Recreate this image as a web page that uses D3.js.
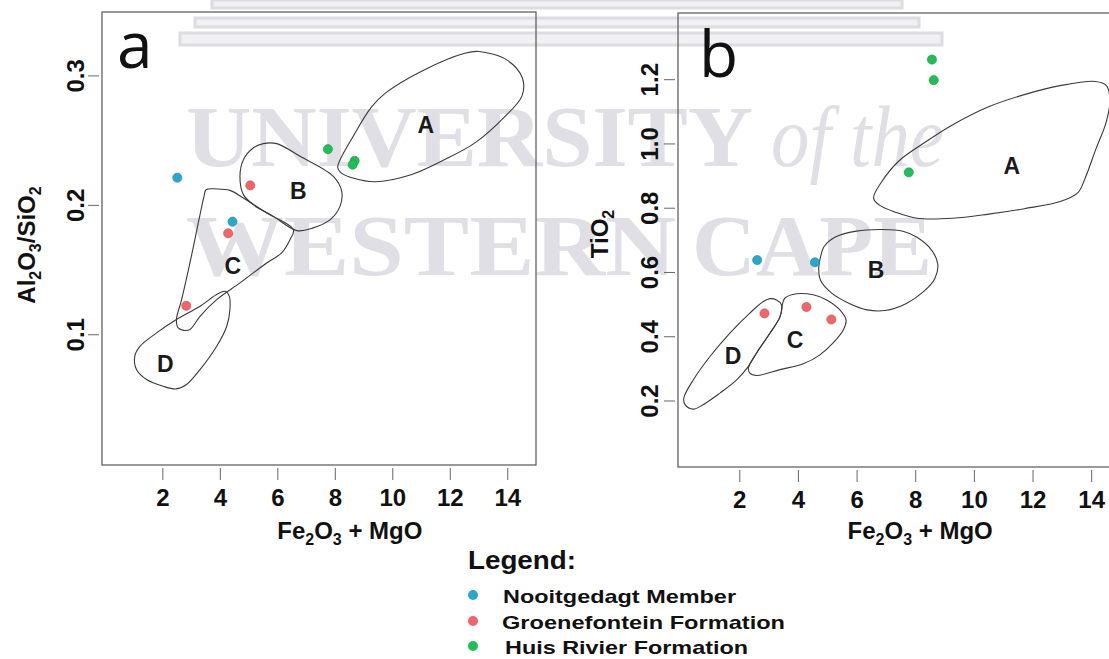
<!DOCTYPE html>
<html>
<head>
<meta charset="utf-8">
<script src="https://cdn.jsdelivr.net/npm/d3@7"></script>
<style>
  body { margin: 0; background: #fff; }
  svg { display: block; }
  text { font-family: "Liberation Sans", Arial, sans-serif; }
</style>
</head>
<body>
<svg id="chart" width="1109" height="659"></svg>
<script>
// ---- data ----
const xTicks = [2, 4, 6, 8, 10, 12, 14];
const yTicksA = [0.1, 0.2, 0.3];
const yTicksB = [0.2, 0.4, 0.6, 0.8, 1.0, 1.2];

const groups = ["Nooitgedagt Member", "Groenefontein Formation", "Huis Rivier Formation"];
const groupColors = ["#2aa7cb", "#f1646a", "#21bd57"];

// panel a: Fe2O3+MgO vs Al2O3/SiO2
const nooitA = [[2.52, 0.221], [4.44, 0.187]];
const groenA = [[5.06, 0.215], [4.29, 0.178], [2.83, 0.122]];
const huisA = [[7.76, 0.243], [8.69, 0.234], [8.62, 0.231]];

// panel b: Fe2O3+MgO vs TiO2
const nooitB = [[2.61, 0.637], [4.58, 0.630]];
const groenB = [[2.86, 0.471], [4.29, 0.491], [5.14, 0.452]];
const huisB = [[8.57, 1.261], [8.63, 1.197], [7.78, 0.910]];

// tectonic setting fields, panel a
const fieldAa = [[8.10,0.2288],[8.66,0.2537],[9.28,0.2757],[9.78,0.2867],[11.02,0.3033],[12.52,0.3171],[13.01,0.3185],[14.01,0.3116],[14.53,0.2978],[14.51,0.284],[13.88,0.2674],[12.89,0.2481],[11.77,0.2344],[10.65,0.2233],[9.40,0.2178],[8.66,0.2205],[8.22,0.2247]];
const fieldBa = [[5.16,0.2439],[5.51,0.2473],[5.98,0.2473],[6.79,0.2375],[7.95,0.222],[8.24,0.2104],[8.18,0.1988],[7.84,0.1886],[7.25,0.1822],[6.68,0.1801],[5.86,0.1911],[5.16,0.2002],[4.82,0.2079],[4.70,0.222],[4.82,0.2349]];
const fieldCa = [[3.52,0.2117],[3.89,0.2123],[4.35,0.2112],[4.82,0.2053],[5.63,0.1937],[6.56,0.1808],[6.44,0.1731],[6.15,0.1629],[5.63,0.1551],[4.70,0.1397],[3.89,0.1268],[3.31,0.1139],[2.96,0.1037],[2.78,0.1029],[2.55,0.1049],[2.49,0.1114],[2.67,0.1268],[2.96,0.1551],[3.25,0.186],[3.45,0.2066]];
const fieldDa = [[4.18,0.1332],[4.33,0.1293],[4.35,0.119],[4.24,0.1062],[3.89,0.0907],[3.31,0.0727],[2.84,0.0612],[2.49,0.0578],[2.03,0.0598],[1.45,0.065],[1.10,0.0727],[1.04,0.083],[1.22,0.0907],[1.80,0.1011],[2.49,0.1114],[3.31,0.1216],[3.89,0.1307]];
const labelsA = [["A", 11.17, 0.262], ["B", 6.73, 0.211], ["C", 4.45, 0.153], ["D", 2.10, 0.077]];

// tectonic setting fields, panel b
const fieldAb = [[6.58,0.830],[6.85,0.880],[7.46,0.947],[8.31,1.002],[9.28,1.058],[10.50,1.114],[11.72,1.152],[12.94,1.180],[14.15,1.193],[14.52,1.180],[14.64,1.136],[14.52,1.069],[14.15,0.980],[13.79,0.891],[13.55,0.847],[12.94,0.819],[11.72,0.797],[10.50,0.780],[9.28,0.767],[8.06,0.767],[7.33,0.786],[6.78,0.808]];
const fieldBb = [[4.77,0.647],[4.90,0.680],[5.26,0.708],[5.99,0.727],[6.85,0.732],[7.58,0.727],[8.06,0.708],[8.55,0.669],[8.77,0.624],[8.67,0.580],[8.31,0.541],[7.70,0.502],[6.97,0.480],[6.36,0.482],[5.75,0.502],[5.14,0.535],[4.77,0.574],[4.71,0.613]];
const fieldCb = [[3.56,0.519],[3.96,0.532],[4.52,0.529],[4.98,0.513],[5.43,0.482],[5.64,0.451],[5.55,0.420],[5.20,0.379],[4.75,0.342],[4.18,0.314],[3.39,0.296],[2.59,0.278],[2.36,0.285],[2.31,0.301],[2.59,0.348],[3.05,0.410],[3.39,0.461],[3.48,0.503]];
const fieldDb = [[3.05,0.517],[3.27,0.513],[3.44,0.498],[3.39,0.461],[3.05,0.410],[2.59,0.348],[2.31,0.306],[1.91,0.264],[1.34,0.223],[0.77,0.187],[0.43,0.173],[0.15,0.187],[0.11,0.208],[0.43,0.264],[1.00,0.337],[1.68,0.410],[2.36,0.472],[2.82,0.508]];
const labelsB = [["A", 11.29, 0.930], ["B", 6.66, 0.605], ["C", 3.90, 0.387], ["D", 1.79, 0.339]];

// ---- drawing ----
const svg = d3.select("#chart");

// faint thesis watermark behind everything
const wm = svg.append("g").attr("class", "watermark");
[[212, 0, 690, 8], [195, 18, 724, 9], [180, 33, 762, 12]].forEach(function (r) {
  wm.append("rect")
    .attr("x", r[0]).attr("y", r[1]).attr("width", r[2]).attr("height", r[3])
    .attr("fill", "#f1f1f3").attr("stroke", "#dcdce1").attr("stroke-width", 3);
});
const wmText = [["UNIVERSITY", 186, 166, 567, "normal"], ["of the", 771, 166, 173, "italic"],
                ["WESTERN", 186, 275, 490, "normal"], ["CAPE", 692, 275, 240, "normal"]];
wmText.forEach(function (t) {
  wm.append("text")
    .attr("x", t[1]).attr("y", t[2])
    .attr("textLength", t[3]).attr("lengthAdjust", "spacingAndGlyphs")
    .style("font-family", '"Liberation Serif", "DejaVu Serif", serif')
    .style("font-size", "86px")
    .style("font-weight", t[4] == "italic" ? "normal" : "bold")
    .style("font-style", t[4])
    .attr("fill", "#dfdfe5")
    .text(t[0]);
});

const curve = d3.curveCatmullRomClosed.alpha(0.5);

function subText(sel, parts) {
  parts.forEach(function (p) {
    if (p[1]) {
      sel.append("tspan").attr("dy", 6).style("font-size", "16px").text(p[0]);
    } else {
      sel.append("tspan").attr("dy", p[2] || 0).text(p[0]);
    }
  });
}

function buildPanel(cfg) {
  const x = d3.scaleLinear().domain(cfg.xDomain).range([cfg.left, cfg.left + cfg.width]);
  const y = d3.scaleLinear().domain(cfg.yDomain).range([cfg.top + cfg.height, cfg.top]);
  const g = svg.append("g");

  // x axis
  const xa = g.append("g")
    .attr("transform", "translate(0," + (cfg.top + cfg.height + 3) + ")")
    .call(d3.axisBottom(x).tickValues(xTicks).tickSize(12).tickPadding(9).tickFormat(d3.format("d")));
  xa.select(".domain").remove();
  xa.selectAll(".tick line").attr("stroke", "#666");
  xa.selectAll(".tick text")
    .style("font-size", "24px").style("font-weight", "bold").attr("fill", "#111")
    .style("font-family", '"Liberation Sans", Arial, sans-serif');

  // y axis with labels parallel to the axis
  const ya = g.append("g")
    .attr("transform", "translate(" + (cfg.left - 3) + ",0)")
    .call(d3.axisLeft(y).tickValues(cfg.yTicks).tickSize(11).tickFormat(d3.format(".1f")));
  ya.select(".domain").remove();
  ya.selectAll(".tick line").attr("stroke", "#666");
  ya.selectAll(".tick text")
    .attr("transform", "rotate(-90)")
    .attr("x", 0).attr("y", -cfg.yLabelGap).attr("dy", 0)
    .attr("text-anchor", "middle")
    .style("font-size", "24px").style("font-weight", "bold").attr("fill", "#111")
    .style("font-family", '"Liberation Sans", Arial, sans-serif');

  // fields
  const line = d3.line().x(function (d) { return x(d[0]); }).y(function (d) { return y(d[1]); }).curve(curve);
  g.append("g").selectAll("path")
    .data(cfg.fields)
    .enter()
    .append("path")
    .attr("d", line)
    .attr("fill", "none")
    .attr("stroke", "#3a3a3a")
    .attr("stroke-width", 1.1);

  g.append("g").selectAll("text")
    .data(cfg.labels)
    .enter()
    .append("text")
    .attr("x", function (d) { return x(d[1]); })
    .attr("y", function (d) { return y(d[2]); })
    .attr("text-anchor", "middle")
    .attr("dominant-baseline", "central")
    .style("font-size", "23px").style("font-weight", "bold").attr("fill", "#1a1a1a")
    .text(function (d) { return d[0]; });

  // points
  cfg.series.forEach(function (s, i) {
    g.append("g").selectAll("circle")
      .data(s)
      .enter()
      .append("circle")
      .attr("cx", function (d) { return x(d[0]); })
      .attr("cy", function (d) { return y(d[1]); })
      .attr("r", 4.6)
      .attr("fill", groupColors[i])
      .attr("stroke", d3.color(groupColors[i]).darker(0.6))
      .attr("stroke-width", 0.6);
  });

  // frame
  g.append("rect")
    .attr("x", cfg.left).attr("y", cfg.top)
    .attr("width", cfg.width).attr("height", cfg.height)
    .attr("fill", "none").attr("stroke", "#555").attr("stroke-width", 1.2);

  // panel letter
  g.append("text")
    .attr("x", cfg.letterX).attr("y", cfg.letterY)
    .style("font-family", '"Open Sans", sans-serif')
    .style("font-size", "64px").attr("fill", "#111")
    .text(cfg.letter);

  // axis titles
  const xt = g.append("text")
    .attr("x", cfg.left + cfg.width * cfg.xTitleFrac).attr("y", 539)
    .attr("text-anchor", "middle")
    .style("font-size", "24px").style("font-weight", "bold").attr("fill", "#111");
  subText(xt, [["Fe", 0], ["2", 1], ["O", 0, -6], ["3", 1], [" + MgO", 0, -6]]);

  const yt = g.append("text")
    .attr("transform", "translate(" + cfg.yTitleX + "," + cfg.yTitleY + ") rotate(-90)")
    .attr("text-anchor", "middle")
    .style("font-size", "24px").style("font-weight", "bold").attr("fill", "#111");
  subText(yt, cfg.yTitle);
}

buildPanel({
  left: 102, top: 12, width: 434, height: 453,
  xDomain: [-0.1, 15.0], yDomain: [-0.001, 0.349], yTicks: yTicksA,
  yLabelGap: 15,
  fields: [fieldAa, fieldBa, fieldCa, fieldDa], labels: labelsA,
  series: [nooitA, groenA, huisA],
  letter: "a", letterX: 117, letterY: 68,
  xTitleFrac: 0.571, yTitleX: 35, yTitleY: 245,
  yTitle: [["Al", 0], ["2", 1], ["O", 0, -6], ["3", 1], ["/SiO", 0, -6], ["2", 1]]
});

buildPanel({
  left: 678, top: 13, width: 434, height: 454,
  xDomain: [-0.09, 14.71], yDomain: [-0.007, 1.406], yTicks: yTicksB,
  yLabelGap: 17,
  fields: [fieldAb, fieldBb, fieldCb, fieldDb], labels: labelsB,
  series: [nooitB, groenB, huisB],
  letter: "b", letterX: 699, letterY: 77,
  xTitleFrac: 0.558, yTitleX: 608, yTitleY: 234,
  yTitle: [["TiO", 0], ["2", 1]]
});

// legend
const legend = svg.append("g");
legend.append("text")
  .attr("x", 468).attr("y", 569)
  .attr("textLength", 108).attr("lengthAdjust", "spacingAndGlyphs")
  .style("font-size", "26px").style("font-weight", "bold").attr("fill", "#111")
  .text("Legend:");
const legendRows = [[595, 503, 603, 233], [621, 502, 629, 283], [646, 505, 654, 243]];
const item = legend.selectAll(".item")
  .data(groups)
  .enter()
  .append("g")
  .attr("class", "item");
item.append("circle")
  .attr("cx", 473)
  .attr("cy", function (d, i) { return legendRows[i][0]; })
  .attr("r", 5)
  .attr("fill", function (d, i) { return groupColors[i]; });
item.append("text")
  .attr("x", function (d, i) { return legendRows[i][1]; })
  .attr("y", function (d, i) { return legendRows[i][2]; })
  .attr("textLength", function (d, i) { return legendRows[i][3]; })
  .attr("lengthAdjust", "spacingAndGlyphs")
  .style("font-size", "19px").style("font-weight", "bold").attr("fill", "#111")
  .text(function (d) { return d; });
</script>
</body>
</html>
